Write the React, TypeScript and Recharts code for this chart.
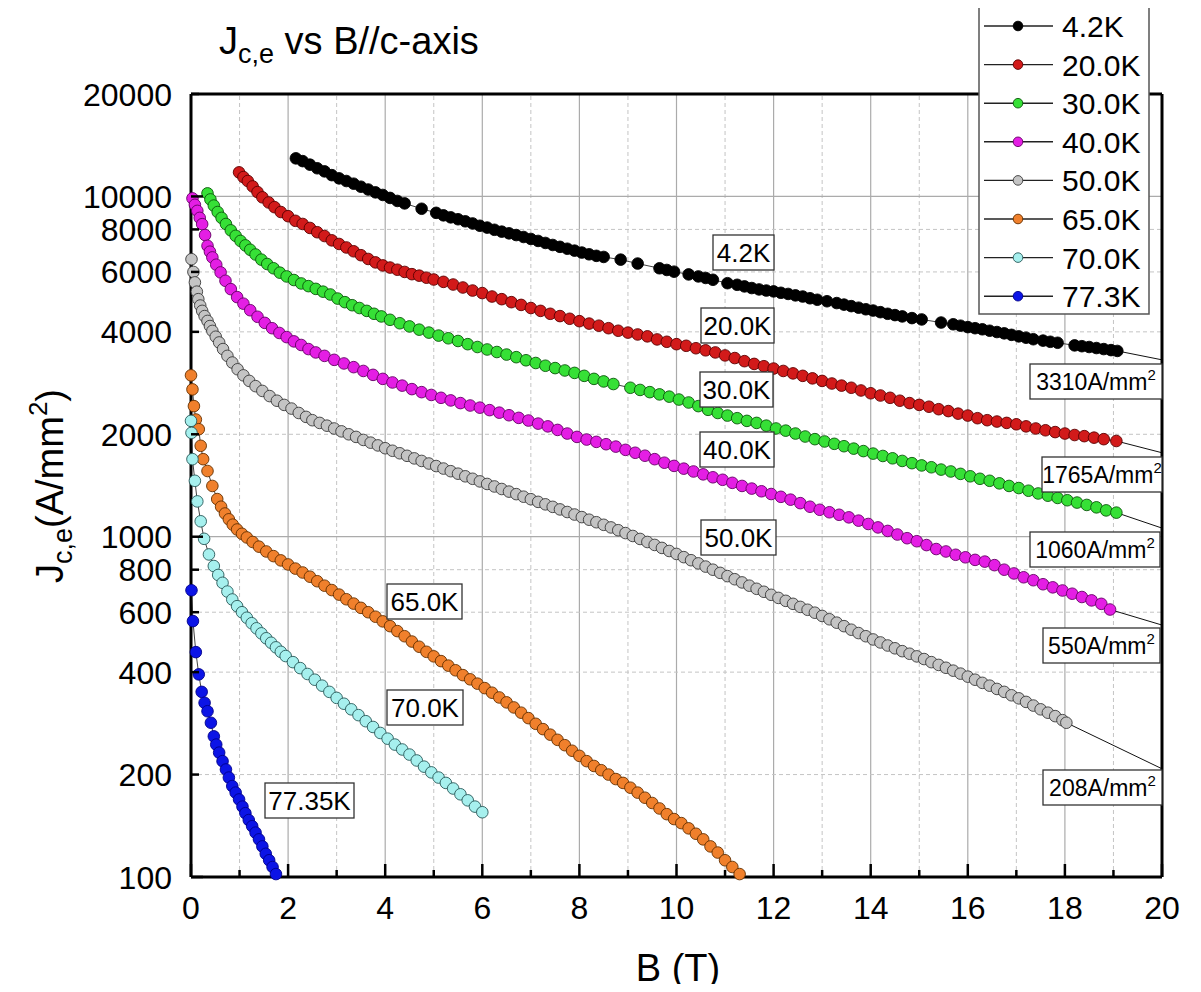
import React from 'react';
import { ComposedChart, Scatter, XAxis, YAxis, ReferenceLine } from 'recharts';

// ---------------- data ----------------
const seriesNames = ['4.2K', '20.0K', '30.0K', '40.0K', '50.0K', '65.0K', '70.0K', '77.3K'];

const s4K2: [number, number][] = [
  [2.16, 12940], [2.3, 12700], [2.45, 12400], [2.6, 12100], [2.75, 11850], [2.9, 11550], [3.05, 11300],
  [3.2, 11100], [3.35, 10900], [3.5, 10680], [3.65, 10480], [3.8, 10280], [3.95, 10100], [4.1, 9900],
  [4.25, 9700], [4.4, 9540], [4.75, 9200], [5.05, 8950], [5.2, 8800], [5.35, 8680], [5.5, 8570],
  [5.65, 8450], [5.8, 8330], [5.95, 8200], [6.1, 8100], [6.25, 7980], [6.4, 7880], [6.55, 7790],
  [6.7, 7700], [6.85, 7600], [7.0, 7500], [7.15, 7400], [7.3, 7300], [7.45, 7200], [7.6, 7110],
  [7.75, 7020], [7.9, 6930], [8.05, 6840], [8.2, 6760], [8.35, 6690], [8.5, 6640], [8.85, 6520],
  [9.2, 6350], [9.65, 6150], [9.8, 6080], [9.95, 6010], [10.25, 5900], [10.45, 5820], [10.6, 5760],
  [10.75, 5690], [11.05, 5560], [11.25, 5500], [11.4, 5440], [11.55, 5380], [11.7, 5330], [11.85, 5290],
  [12.0, 5260], [12.15, 5210], [12.3, 5170], [12.45, 5120], [12.6, 5080], [12.75, 5020], [12.9, 4970],
  [13.1, 4920], [13.3, 4860], [13.45, 4810], [13.6, 4760], [13.75, 4710], [13.9, 4660], [14.05, 4620],
  [14.2, 4570], [14.35, 4520], [14.5, 4480], [14.65, 4440], [14.85, 4390], [15.05, 4350], [15.45, 4260],
  [15.7, 4210], [15.85, 4170], [16.0, 4130], [16.15, 4100], [16.3, 4070], [16.45, 4030], [16.6, 3995],
  [16.75, 3960], [16.9, 3920], [17.05, 3880], [17.2, 3845], [17.35, 3805], [17.55, 3770], [17.7, 3740],
  [17.85, 3715], [18.2, 3650], [18.35, 3630], [18.5, 3610], [18.65, 3585], [18.8, 3560], [18.95, 3535],
  [19.08, 3515],
];

const s20K: [number, number][] = [
  [0.99, 11770], [1.08, 11400], [1.17, 11100], [1.27, 10700], [1.37, 10300], [1.47, 9940], [1.6, 9600],
  [1.72, 9300], [1.85, 9000], [2.0, 8750], [2.15, 8480], [2.3, 8300], [2.45, 8080], [2.6, 7850],
  [2.75, 7650], [2.9, 7430], [3.05, 7250], [3.2, 7080], [3.35, 6900], [3.5, 6720], [3.65, 6550],
  [3.8, 6400], [3.95, 6270], [4.1, 6180], [4.25, 6090], [4.4, 6000], [4.55, 5910], [4.7, 5850],
  [4.85, 5770], [5.0, 5700], [5.2, 5610], [5.4, 5510], [5.6, 5400], [5.8, 5290], [6.0, 5200],
  [6.2, 5080], [6.4, 4990], [6.6, 4890], [6.8, 4800], [7.0, 4700], [7.2, 4610], [7.4, 4520],
  [7.6, 4450], [7.8, 4370], [8.0, 4300], [8.2, 4230], [8.4, 4170], [8.6, 4100], [8.8, 4030],
  [9.0, 3980], [9.2, 3930], [9.4, 3880], [9.6, 3800], [9.8, 3740], [10.0, 3680], [10.2, 3640],
  [10.4, 3580], [10.6, 3530], [10.8, 3480], [11.0, 3410], [11.2, 3350], [11.4, 3280], [11.6, 3220],
  [11.8, 3170], [12.0, 3120], [12.2, 3070], [12.4, 3020], [12.6, 2970], [12.8, 2920], [13.0, 2870],
  [13.2, 2820], [13.4, 2780], [13.6, 2740], [13.8, 2690], [14.0, 2640], [14.2, 2600], [14.4, 2560],
  [14.6, 2510], [14.8, 2470], [15.0, 2440], [15.2, 2410], [15.4, 2370], [15.6, 2340], [15.8, 2300],
  [16.0, 2270], [16.2, 2230], [16.4, 2200], [16.6, 2180], [16.8, 2160], [17.0, 2140], [17.2, 2110],
  [17.4, 2080], [17.6, 2055], [17.8, 2030], [18.0, 2010], [18.2, 1990], [18.4, 1975], [18.6, 1955],
  [18.8, 1935], [19.06, 1911],
];

const s30K: [number, number][] = [
  [0.34, 10210], [0.4, 9800], [0.47, 9400], [0.55, 9000], [0.63, 8650], [0.72, 8300], [0.82, 7950],
  [0.92, 7660], [1.02, 7400], [1.12, 7180], [1.22, 6970], [1.33, 6750], [1.45, 6520], [1.57, 6330],
  [1.7, 6150], [1.83, 5970], [1.97, 5820], [2.12, 5680], [2.27, 5550], [2.42, 5450], [2.57, 5350],
  [2.72, 5250], [2.87, 5150], [3.02, 5010], [3.17, 4890], [3.32, 4790], [3.47, 4700], [3.62, 4610],
  [3.77, 4520], [3.92, 4440], [4.1, 4340], [4.3, 4240], [4.5, 4150], [4.7, 4060], [4.9, 3980],
  [5.1, 3900], [5.3, 3830], [5.5, 3760], [5.7, 3680], [5.9, 3610], [6.1, 3550], [6.3, 3490],
  [6.5, 3430], [6.7, 3370], [6.9, 3300], [7.1, 3240], [7.3, 3180], [7.5, 3130], [7.7, 3080],
  [7.9, 3030], [8.1, 2970], [8.3, 2910], [8.5, 2860], [8.7, 2810], [9.05, 2740], [9.25, 2700],
  [9.45, 2660], [9.65, 2620], [9.85, 2580], [10.05, 2530], [10.25, 2480], [10.45, 2420], [10.65, 2360],
  [10.85, 2310], [11.05, 2270], [11.25, 2230], [11.45, 2190], [11.65, 2160], [11.85, 2120], [12.05, 2080],
  [12.25, 2050], [12.45, 2010], [12.65, 1970], [12.85, 1935], [13.05, 1905], [13.25, 1875], [13.45, 1845],
  [13.65, 1815], [13.85, 1785], [14.05, 1755], [14.25, 1727], [14.45, 1700], [14.65, 1670], [14.85, 1645],
  [15.05, 1620], [15.25, 1600], [15.45, 1575], [15.65, 1555], [15.85, 1530], [16.05, 1505], [16.25, 1480],
  [16.45, 1460], [16.65, 1435], [16.85, 1410], [17.05, 1390], [17.25, 1365], [17.45, 1340], [17.65, 1320],
  [17.85, 1300], [18.05, 1280], [18.25, 1260], [18.45, 1240], [18.65, 1220], [18.85, 1195], [19.06, 1177],
];

const s40K: [number, number][] = [
  [0.03, 9870], [0.08, 9450], [0.13, 9070], [0.18, 8650], [0.23, 8290], [0.29, 7700], [0.34, 7160],
  [0.39, 6880], [0.44, 6620], [0.52, 6300], [0.61, 5980], [0.71, 5650], [0.82, 5340], [0.95, 5060],
  [1.08, 4840], [1.22, 4630], [1.37, 4430], [1.52, 4250], [1.67, 4100], [1.82, 3970], [1.97, 3860],
  [2.12, 3750], [2.27, 3660], [2.42, 3560], [2.57, 3480], [2.75, 3400], [2.95, 3310], [3.15, 3230],
  [3.35, 3150], [3.55, 3070], [3.75, 2990], [3.95, 2910], [4.15, 2840], [4.35, 2780], [4.55, 2715],
  [4.75, 2660], [4.95, 2610], [5.15, 2560], [5.35, 2515], [5.55, 2470], [5.75, 2430], [5.95, 2395],
  [6.15, 2355], [6.35, 2315], [6.55, 2275], [6.75, 2235], [6.95, 2195], [7.15, 2150], [7.35, 2110],
  [7.55, 2060], [7.75, 2010], [7.95, 1965], [8.15, 1930], [8.35, 1900], [8.55, 1870], [8.75, 1840],
  [8.95, 1800], [9.15, 1765], [9.35, 1730], [9.55, 1690], [9.75, 1650], [9.95, 1615], [10.15, 1585],
  [10.35, 1555], [10.55, 1525], [10.75, 1495], [10.95, 1470], [11.15, 1440], [11.35, 1410], [11.55, 1385],
  [11.75, 1360], [11.95, 1335], [12.15, 1310], [12.35, 1285], [12.55, 1255], [12.75, 1225], [12.95, 1200],
  [13.15, 1180], [13.35, 1160], [13.55, 1140], [13.75, 1115], [13.95, 1090], [14.15, 1065], [14.35, 1040],
  [14.55, 1015], [14.75, 990], [14.95, 970], [15.15, 945], [15.35, 920], [15.55, 905], [15.75, 885],
  [15.95, 870], [16.15, 855], [16.35, 845], [16.55, 825], [16.75, 800], [16.95, 780], [17.15, 760],
  [17.35, 745], [17.55, 725], [17.75, 710], [17.95, 695], [18.15, 680], [18.35, 665], [18.55, 650],
  [18.75, 635], [18.93, 611],
];

const s50K: [number, number][] = [
  [0.01, 6540], [0.05, 6000], [0.08, 5590], [0.12, 5250], [0.15, 4990], [0.19, 4780], [0.23, 4610],
  [0.28, 4450], [0.34, 4306], [0.39, 4160], [0.44, 4025], [0.51, 3870], [0.58, 3723], [0.66, 3560],
  [0.75, 3400], [0.85, 3250], [0.96, 3105], [1.08, 2980], [1.2, 2870], [1.33, 2770], [1.47, 2682],
  [1.62, 2590], [1.77, 2510], [1.92, 2440], [2.07, 2380], [2.22, 2310], [2.37, 2250], [2.5, 2200],
  [2.65, 2160], [2.8, 2120], [2.95, 2080], [3.1, 2040], [3.25, 2000], [3.4, 1965], [3.55, 1925],
  [3.7, 1890], [3.85, 1855], [4.0, 1820], [4.15, 1789], [4.3, 1759], [4.45, 1729], [4.6, 1699],
  [4.75, 1670], [4.9, 1641], [5.05, 1613], [5.2, 1586], [5.35, 1558], [5.5, 1532], [5.65, 1505],
  [5.8, 1480], [5.95, 1454], [6.1, 1429], [6.25, 1405], [6.4, 1381], [6.55, 1357], [6.7, 1334],
  [6.85, 1311], [7.0, 1289], [7.15, 1266], [7.3, 1245], [7.45, 1224], [7.6, 1203], [7.75, 1182],
  [7.9, 1162], [8.05, 1142], [8.2, 1122], [8.35, 1103], [8.5, 1084], [8.65, 1065], [8.8, 1045],
  [8.95, 1025], [9.1, 1005], [9.25, 985], [9.4, 965], [9.55, 946], [9.7, 927], [9.85, 908],
  [10.0, 890], [10.15, 871], [10.3, 853], [10.45, 835], [10.6, 817], [10.75, 800], [10.9, 783],
  [11.05, 766], [11.2, 750], [11.35, 734], [11.5, 718], [11.65, 703], [11.8, 689], [11.95, 675],
  [12.1, 661], [12.25, 648], [12.4, 635], [12.55, 622], [12.7, 610], [12.85, 598], [13.0, 585],
  [13.15, 572], [13.3, 559], [13.45, 546], [13.6, 533], [13.75, 521], [13.9, 510], [14.05, 499],
  [14.2, 489], [14.35, 479], [14.5, 470], [14.65, 461], [14.8, 453], [14.95, 445], [15.1, 437],
  [15.25, 428], [15.4, 420], [15.55, 412], [15.7, 404], [15.85, 396], [16.0, 388], [16.15, 380],
  [16.3, 372], [16.45, 365], [16.6, 357], [16.75, 350], [16.9, 342], [17.05, 335], [17.2, 327],
  [17.35, 319], [17.5, 311], [17.65, 304], [17.8, 297], [17.95, 289], [18.03, 284],
];

const s65K: [number, number][] = [
  [0.0, 2980], [0.03, 2710], [0.06, 2420], [0.1, 2210], [0.16, 2070], [0.2, 1850], [0.25, 1690],
  [0.34, 1560], [0.44, 1410], [0.54, 1290], [0.62, 1225], [0.7, 1170], [0.78, 1125], [0.86, 1085],
  [0.95, 1050], [1.05, 1020], [1.15, 995], [1.27, 965], [1.4, 935], [1.55, 905], [1.7, 877],
  [1.85, 852], [2.0, 829], [2.15, 806], [2.3, 785], [2.45, 763], [2.6, 740], [2.75, 718], [2.9, 697],
  [3.05, 676], [3.2, 655], [3.35, 636], [3.5, 618], [3.65, 600], [3.8, 582], [3.95, 564], [4.1, 546],
  [4.25, 528], [4.4, 510], [4.55, 492], [4.7, 475], [4.85, 459], [5.0, 445], [5.15, 431], [5.3, 418],
  [5.45, 405], [5.6, 392], [5.75, 381], [5.9, 370], [6.05, 359], [6.2, 348], [6.35, 337], [6.5, 326],
  [6.65, 315], [6.8, 304], [6.95, 293], [7.1, 282], [7.25, 272], [7.4, 262], [7.55, 253], [7.7, 244],
  [7.85, 235], [8.0, 227], [8.15, 219], [8.3, 212], [8.45, 206], [8.6, 200], [8.75, 194], [8.9, 189],
  [9.05, 183], [9.2, 177], [9.35, 171], [9.5, 165], [9.65, 159], [9.8, 153], [9.95, 148], [10.1, 144],
  [10.25, 139], [10.4, 134], [10.55, 129], [10.7, 123], [10.85, 118], [11.0, 112], [11.15, 107],
  [11.3, 102],
];

const s70K: [number, number][] = [
  [0.0, 2190], [0.01, 2020], [0.03, 1690], [0.08, 1460], [0.13, 1270], [0.2, 1110], [0.27, 986],
  [0.37, 887], [0.47, 820], [0.56, 772], [0.65, 732], [0.75, 690], [0.85, 654], [0.95, 625],
  [1.05, 600], [1.15, 578], [1.25, 557], [1.35, 538], [1.45, 520], [1.55, 503], [1.65, 488],
  [1.75, 473], [1.85, 459], [1.95, 446], [2.1, 428], [2.25, 411], [2.4, 395], [2.55, 380], [2.7, 365],
  [2.85, 350], [3.0, 336], [3.15, 323], [3.3, 311], [3.45, 299], [3.6, 287], [3.75, 276], [3.9, 265],
  [4.05, 255], [4.2, 245], [4.35, 237], [4.5, 229], [4.65, 220], [4.8, 211], [4.95, 203], [5.1, 196],
  [5.25, 189], [5.4, 182], [5.55, 175], [5.7, 168], [5.85, 161], [6.0, 155],
];

const s77K: [number, number][] = [
  [0.01, 696], [0.04, 565], [0.1, 458], [0.16, 394], [0.22, 350], [0.28, 325], [0.34, 307], [0.41, 284],
  [0.47, 259], [0.52, 245], [0.58, 232], [0.65, 219], [0.72, 207], [0.78, 196], [0.85, 185], [0.92, 177],
  [0.99, 169], [1.06, 161], [1.12, 154], [1.19, 147], [1.26, 141], [1.33, 135], [1.4, 129], [1.47, 123],
  [1.54, 117], [1.61, 112], [1.68, 107], [1.75, 102],
];

const allSeries = [s4K2, s20K, s30K, s40K, s50K, s65K, s70K, s77K];

// extrapolated values at B = 20 T (first five series)
const fitB = 20;
const fitValues = [3310, 1765, 1060, 550, 208];
const fitLabels = ['3310A/mm', '1765A/mm', '1060A/mm', '550A/mm', '208A/mm'];

const tempLabels = ['4.2K', '20.0K', '30.0K', '40.0K', '50.0K', '65.0K', '70.0K', '77.35K'];

const xTicks = [0, 1, 2, 3, 4, 5, 6, 7, 8, 9, 10, 11, 12, 13, 14, 15, 16, 17, 18, 19, 20];
const yTicks = [100, 200, 400, 600, 800, 1000, 2000, 4000, 6000, 8000, 10000, 20000];
const xMajorGrid = [2, 4, 6, 8, 10, 12, 14, 16, 18];
const xMinorGrid = [1, 3, 5, 7, 9, 11, 13, 15, 17, 19];
const yMajorGrid = [1000, 10000];
const yMinorGrid = [200, 400, 600, 800, 2000, 4000, 6000, 8000];

// ---------------- styles ----------------
const fills = ['#000000', '#d21a1a', '#36e036', '#e41ee4', '#c4c4c4', '#f0802c', '#a6f0ee', '#0c14e6'];
const strokes = ['#000000', '#5a0000', '#0a560a', '#640064', '#3a3a3a', '#643000', '#285858', '#00008a'];
const FONT = '"Liberation Sans", Arial, Helvetica, sans-serif';

// layout of the annotation boxes (page pixels)
const tempBoxes = [
  { x: 713, y: 235, w: 61 }, { x: 701, y: 308, w: 73 }, { x: 700, y: 372, w: 73 }, { x: 700, y: 432, w: 74 },
  { x: 701, y: 520, w: 75 }, { x: 387, y: 584, w: 75 }, { x: 387, y: 690, w: 76 }, { x: 265, y: 783, w: 89 },
];
const fitBoxes = [
  { x: 1030, y: 364, w: 132 }, { x: 1042, y: 457, w: 120 }, { x: 1030, y: 532, w: 130 },
  { x: 1043, y: 628, w: 117 }, { x: 1043, y: 770, w: 119 },
];

const XTick = (props: any) => {
  const { x, y, payload } = props;
  const v = payload.value;
  const major = v % 2 === 0;
  return (
    <g>
      <line x1={x} x2={x} y1={y} y2={y - (major ? 13 : 7)} stroke="#000" strokeWidth={2.5} />
      {major && (
        <text x={x} y={y + 42} textAnchor="middle" fontSize={32} fontFamily={FONT} fill="#000">
          {v}
        </text>
      )}
    </g>
  );
};

const YTick = (props: any) => {
  const { x, y, payload } = props;
  const v = payload.value;
  const major = v === 100 || v === 1000 || v === 10000;
  return (
    <g>
      <line x1={x} x2={x + (major ? 12 : 8)} y1={y} y2={y} stroke="#000" strokeWidth={2.5} />
      <text x={x - 19} y={y + 11.5} textAnchor="end" fontSize={32} fontFamily={FONT} fill="#000">
        {v}
      </text>
    </g>
  );
};

const makeShape = (i: number) => (p: any) => (
  <circle cx={p.cx} cy={p.cy} r={5.8} fill={fills[i]} stroke={strokes[i]} strokeWidth={0.9} />
);

export default function App() {
  return (
    <div style={{ position: 'relative', width: 1185, height: 976 }}>
      <ComposedChart width={1185} height={976} margin={{ top: 86, right: 31, left: 0, bottom: 0 }}>
        <XAxis
          dataKey="x"
          type="number"
          domain={[0, 20]}
          ticks={xTicks}
          interval={0}
          height={107}
          tickSize={0}
          tickMargin={0}
          tickLine={false}
          axisLine={{ stroke: '#000', strokeWidth: 3 }}
          tick={XTick}
        />
        <YAxis
          dataKey="y"
          type="number"
          scale="log"
          domain={[100, 20000]}
          ticks={yTicks}
          interval={0}
          width={183}
          tickSize={0}
          tickMargin={0}
          tickLine={false}
          axisLine={{ stroke: '#000', strokeWidth: 3 }}
          tick={YTick}
        />
        {xMajorGrid.map((v) => (
          <ReferenceLine key={'xM' + v} x={v} stroke="#ababab" strokeWidth={1.2} />
        ))}
        {xMinorGrid.map((v) => (
          <ReferenceLine key={'xm' + v} x={v} stroke="#c4c4c4" strokeWidth={1} strokeDasharray="4 3" />
        ))}
        {yMajorGrid.map((v) => (
          <ReferenceLine key={'yM' + v} y={v} stroke="#ababab" strokeWidth={1.2} />
        ))}
        {yMinorGrid.map((v) => (
          <ReferenceLine key={'ym' + v} y={v} stroke="#c4c4c4" strokeWidth={1} strokeDasharray="4 3" />
        ))}
        {fitValues.map((fv, i) => {
          const last = allSeries[i][allSeries[i].length - 1];
          return (
            <ReferenceLine
              key={'fit' + i}
              segment={[{ x: last[0], y: last[1] }, { x: fitB, y: fv }]}
              stroke="#111"
              strokeWidth={1}
            />
          );
        })}
        {allSeries.map((s, i) => (
          <Scatter
            key={seriesNames[i]}
            name={seriesNames[i]}
            data={s.map(([x, y]) => ({ x, y }))}
            line={{ stroke: '#111', strokeWidth: 0.8 }}
            shape={makeShape(i)}
            isAnimationActive={false}
          />
        ))}
        <ReferenceLine x={20} stroke="#000" strokeWidth={3} />
        <ReferenceLine y={20000} stroke="#000" strokeWidth={3} />
      </ComposedChart>

      <svg
        width={1201}
        height={992}
        style={{ position: 'absolute', left: -8, top: -8, pointerEvents: 'none', overflow: 'visible' }}
      >
        {/* title */}
        <text x={219} y={54} fontSize={38} fontFamily={FONT} fill="#000">
          J
          <tspan fontSize={27} dy={9}>c,e</tspan>
          <tspan fontSize={38} dy={-9}> vs B//c-axis</tspan>
        </text>

        {/* y axis title */}
        <text transform="translate(63,486) rotate(-90)" textAnchor="middle" fontSize={38} fontFamily={FONT} fill="#000">
          J
          <tspan fontSize={27} dy={9}>c,e</tspan>
          <tspan fontSize={38} dy={-9}>(A/mm</tspan>
          <tspan fontSize={26} dy={-16}>2</tspan>
          <tspan fontSize={38} dy={16}>)</tspan>
        </text>

        {/* x axis title */}
        <text x={678} y={981} textAnchor="middle" fontSize={38} fontFamily={FONT} fill="#000">
          B (T)
        </text>

        {/* temperature labels */}
        {tempLabels.map((t, i) => (
          <g key={'tl' + i}>
            <rect x={tempBoxes[i].x} y={tempBoxes[i].y} width={tempBoxes[i].w} height={35} fill="#fff" stroke="#333" strokeWidth={1.3} />
            <text x={tempBoxes[i].x + tempBoxes[i].w / 2} y={tempBoxes[i].y + 27} textAnchor="middle" fontSize={26} fontFamily={FONT} fill="#000">
              {t}
            </text>
          </g>
        ))}

        {/* extrapolated value labels */}
        {fitLabels.map((t, i) => (
          <g key={'fl' + i}>
            <rect x={fitBoxes[i].x} y={fitBoxes[i].y} width={fitBoxes[i].w} height={35} fill="#fff" stroke="#333" strokeWidth={1.3} />
            <text x={fitBoxes[i].x + fitBoxes[i].w / 2} y={fitBoxes[i].y + 26} textAnchor="middle" fontSize={23} fontFamily={FONT} fill="#000">
              {t}
              <tspan fontSize={15} dy={-10}>2</tspan>
            </text>
          </g>
        ))}

        {/* legend */}
        <rect x={979} y={5} width={170} height={309} fill="#fff" stroke="#555" strokeWidth={1.5} />
        {seriesNames.map((n, i) => {
          const cy = 26 + i * 38.6;
          return (
            <g key={'lg' + i}>
              <line x1={984} x2={1053} y1={cy} y2={cy} stroke="#222" strokeWidth={1.4} />
              <circle cx={1018} cy={cy} r={4.8} fill={fills[i]} stroke={strokes[i]} strokeWidth={0.9} />
              <text x={1062} y={cy + 11} fontSize={30} fontFamily={FONT} fill="#000">
                {n}
              </text>
            </g>
          );
        })}
      </svg>
    </div>
  );
}
